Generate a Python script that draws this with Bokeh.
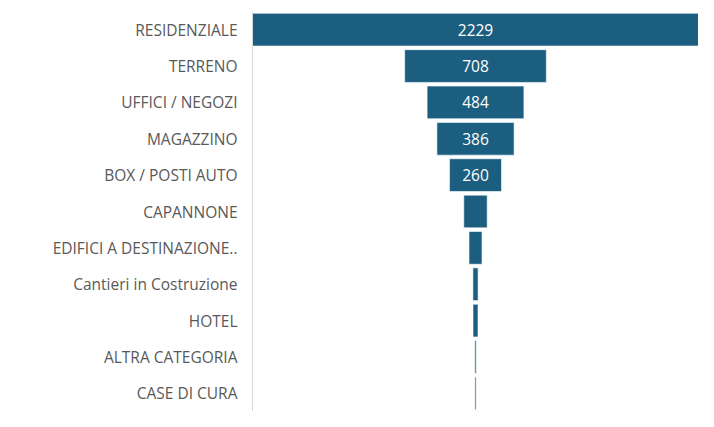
from bokeh.plotting import figure
from bokeh.models import ColumnDataSource, FactorRange
from bokeh.embed import file_html
from bokeh.resources import INLINE
from bokeh.core.properties import value

categories = ["RESIDENZIALE", "TERRENO", "UFFICI / NEGOZI", "MAGAZZINO",
              "BOX / POSTI AUTO", "CAPANNONE", "EDIFICI A DESTINAZIONE..",
              "Cantieri in Costruzione", "HOTEL", "ALTRA CATEGORIA", "CASE DI CURA"]
counts = [2229, 708, 484, 386, 260, 117, 65, 26, 25, 7, 6]
label_min = 200

half = max(counts) / 2
src = ColumnDataSource(dict(
    cat=categories,
    left=[-c / 2 for c in counts],
    right=[c / 2 for c in counts],
))
lab = ColumnDataSource(dict(
    cat=[c for c, v in zip(categories, counts) if v >= label_min],
    zero=[0 for v in counts if v >= label_min],
    txt=[str(v) for v in counts if v >= label_min],
))

p = figure(width=698, height=411, output_backend="svg", toolbar_location=None,
           y_range=FactorRange(*reversed(categories)),
           x_range=(-half, half))
p.hbar(y="cat", left="left", right="right", height=0.9, source=src,
       fill_color="#1B5E80", line_color="#ffffff", line_width=0.6)
p.text(x="zero", y="cat", text="txt", source=lab, text_color="white",
       text_font=value("Open Sans"), text_font_size="15.5px",
       text_align="center", text_baseline="middle")

p.xaxis.visible = False
p.xgrid.visible = False
p.ygrid.visible = False
p.outline_line_color = None
p.yaxis.axis_line_color = "#d9d9d9"
p.yaxis.major_tick_line_color = None
p.yaxis.minor_tick_line_color = None
p.yaxis.major_label_text_font = "Open Sans"
p.yaxis.major_label_text_font_size = "15.5px"
p.yaxis.major_label_text_color = "#595959"
p.yaxis.major_label_standoff = 9
p.min_border_left = 252
p.min_border_right = 0
p.min_border_top = 11
p.min_border_bottom = 0

open("out.html", "w").write(file_html(p, INLINE))
